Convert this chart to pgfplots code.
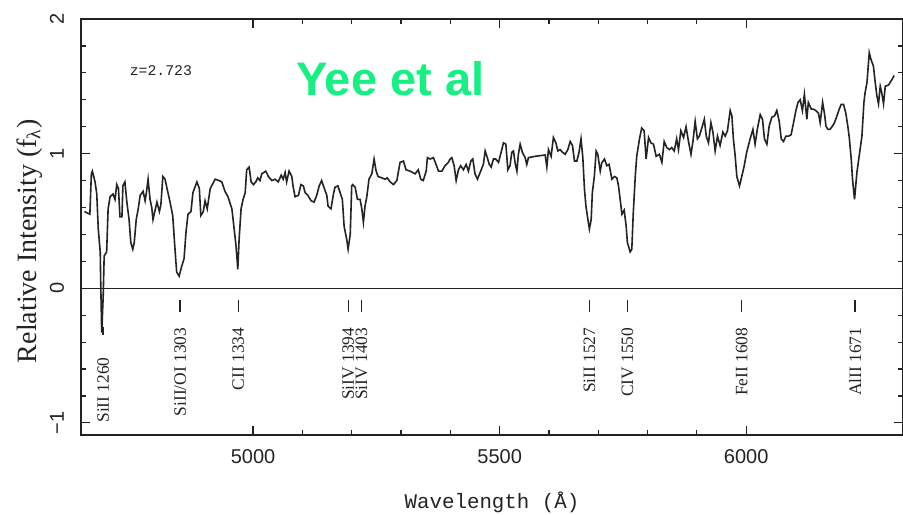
\documentclass[border=0pt]{standalone}
\usepackage{fontspec}
\setmainfont{Liberation Sans}
\newfontfamily\timesf{Liberation Serif}
\newfontfamily\courf{Liberation Mono}
\usepackage{pgfplots}
\pgfplotsset{compat=1.18}
\definecolor{ink}{RGB}{35,35,35}
\definecolor{yeegreen}{RGB}{20,240,130}

\begin{document}
\begin{tikzpicture}
\begin{axis}[
  scale only axis, width=411pt, height=208pt,
  xmin=4651, xmax=6318, ymin=-1.09, ymax=2,
  xtick={5000,5500,6000}, xticklabels={5000,5500,6000},
  ytick={-1,0,1,2}, yticklabels={−1,0,1,2},
  minor x tick num=4, minor y tick num=4,
  tick align=inside, xtick pos=both, ytick pos=both,
  major tick length=4.5pt, minor tick length=2.5pt,
  axis line style={ink, line width=0.7pt},
  tick style={ink, line width=0.6pt},
  tick label style={font=\fontsize{10}{12}\selectfont, text=ink},
  xticklabel style={anchor=center}, xticklabel shift=11pt,
  yticklabel style={rotate=90, anchor=center}, yticklabel shift=12pt,
  xlabel={Wavelength (Å)},
  xlabel style={font=\courf\fontsize{10.4}{12}\selectfont, text=ink,
                at={(axis description cs:0.5,0)}, anchor=base, yshift=-36.5pt},
  ylabel={Relative Intensity (f\textsubscript{λ})},
  ylabel style={font=\timesf\fontsize{14}{16}\selectfont, text=ink,
                at={(axis description cs:-0.0547,0.466)}, anchor=base},
]
% zero level
\addplot[ink, line width=0.5pt] coordinates {(4651,0) (6318,0)};

% spectrum, z = 2.723
\addplot[ink, line width=0.8pt] coordinates {
(4658,0.57) (4669,0.55) (4672,0.85) (4674,0.87) (4679.5,0.79) (4683,0.70) (4686,0.44)
(4690,0.27) (4691,0.04) (4693,-0.33) (4696,-0.06) (4698,0.24) (4703,0.27) (4706,0.59)
(4710,0.68) (4716,0.70) (4720,0.66) (4723.5,0.77) (4727,0.74) (4730,0.53) (4734,0.53)
(4736,0.76) (4740,0.79) (4744,0.64) (4748.5,0.51) (4752,0.34) (4756,0.29) (4759,0.34)
(4763,0.51) (4767,0.59) (4771,0.69) (4777,0.72) (4781,0.65) (4784,0.72) (4787,0.81)
(4791,0.66) (4794.5,0.60) (4797,0.51) (4805,0.64) (4810,0.57) (4813,0.62) (4817,0.83)
(4821.5,0.81) (4825.5,0.74) (4831.6,0.64) (4837,0.54) (4842,0.27) (4845,0.12) (4850,0.09)
(4855,0.16) (4860,0.22) (4864,0.42) (4868,0.55) (4874,0.57) (4878,0.71) (4886,0.79)
(4891,0.74) (4894,0.54) (4899,0.57) (4902.6,0.65) (4907,0.59) (4913,0.74) (4923,0.81)
(4931,0.80) (4936.5,0.79) (4943,0.72) (4949,0.68) (4957,0.59) (4961,0.46) (4965.5,0.31)
(4969,0.14) (4971.6,0.36) (4975.6,0.59) (4979.7,0.66) (4984,0.71) (4987,0.88) (4992,0.90)
(4996,0.79) (5000.6,0.77) (5005.5,0.79) (5009.5,0.82) (5014,0.80) (5017.6,0.85) (5025.7,0.87)
(5031,0.83) (5038,0.80) (5044.6,0.81) (5051,0.79) (5057,0.84) (5061,0.81) (5065,0.86)
(5068,0.79) (5073,0.87) (5078.5,0.83) (5081,0.76) (5085,0.68) (5092,0.69) (5097,0.77)
(5102,0.76) (5105.5,0.71) (5111,0.69) (5117.6,0.65) (5123.7,0.64) (5129,0.69) (5134,0.76)
(5139,0.80) (5144.6,0.74) (5149.5,0.69) (5152,0.61) (5158,0.59) (5163,0.70) (5166,0.75)
(5172,0.76) (5176.5,0.71) (5181,0.66) (5184.6,0.46) (5190,0.36) (5192.7,0.29) (5197,0.40)
(5200,0.76) (5202,0.77) (5207,0.75) (5211.6,0.66) (5217,0.66) (5220.5,0.59) (5223.7,0.49)
(5227,0.61) (5230.6,0.68) (5235,0.81) (5240.8,0.85) (5245.4,0.96) (5249.5,0.87) (5253.5,0.83)
(5261,0.82) (5267.7,0.81) (5272,0.82) (5278,0.79) (5284.6,0.77) (5291.5,0.80) (5298,0.935)
(5305,0.945) (5310,0.88) (5318.4,0.87) (5328.6,0.85) (5335,0.88) (5340,0.81) (5345,0.80)
(5351,0.87) (5353.5,0.97) (5359,0.96) (5365.7,0.97) (5371,0.92) (5376,0.87) (5383,0.87)
(5389,0.91) (5396,0.935) (5399.6,0.96) (5403,0.97) (5407.7,0.91) (5411.8,0.80) (5416.4,0.88)
(5421,0.91) (5426.6,0.88) (5432,0.92) (5436.7,0.87) (5441.6,0.945) (5445.6,0.96) (5450,0.85)
(5455,0.81) (5460.4,0.86) (5467,0.92) (5470.6,1.02) (5475,0.97) (5479,0.92) (5482.8,0.90)
(5487.4,0.96) (5492,0.96) (5497.6,0.935) (5503,1.01) (5507.7,1.08) (5512.6,1.07) (5516.6,0.88)
(5521,0.91) (5524.7,1.01) (5528,1.02) (5531.4,0.93) (5535,0.87) (5538,0.995) (5541.6,1.07)
(5546,1.01) (5551.7,0.97) (5555,0.92) (5558.4,0.97) (5572,0.98) (5592.3,0.99) (5595.7,0.90)
(5599,1.03) (5604.4,0.98) (5609,1.12) (5614,1.08) (5618,1.02) (5622.7,1.03) (5627.4,1.01)
(5632.8,0.995) (5638.3,1.03) (5643,1.09) (5647.7,1.06) (5651.7,0.945) (5656.6,0.945) (5661,1.01)
(5665,1.11) (5668.7,0.97) (5672,0.735) (5675,0.61) (5679,0.51) (5682,0.44) (5685.6,0.51)
(5688,0.71) (5692,0.83) (5695.7,1.02) (5699,0.995) (5704,0.87) (5707,0.93) (5712.6,0.96)
(5717.4,0.91) (5722,0.92) (5727.6,0.81) (5733,0.83) (5737.7,0.82) (5741,0.76) (5744.4,0.66)
(5748,0.55) (5752.5,0.58) (5756.6,0.46) (5759,0.34) (5764.7,0.27) (5768,0.29) (5771,0.56)
(5775,0.83) (5778,0.98) (5783.6,1.11) (5788,1.19) (5793,1.17) (5797,0.96) (5802,1.12)
(5806.7,1.08) (5812,1.07) (5817.4,0.98) (5824,0.995) (5829,0.935) (5833.7,1.09) (5839,1.045)
(5844.4,1.03) (5849,1.045) (5854,1.02) (5859,1.11) (5862.7,1.03) (5867.5,1.17) (5873,1.12)
(5878,1.20) (5883,1.09) (5888,0.995) (5892,1.09) (5896.5,1.24) (5901,1.11) (5905,1.13)
(5910,1.19) (5915,1.255) (5919,1.13) (5923.5,1.08) (5928.4,1.23) (5932.5,1.16) (5937,1.02)
(5941.8,1.13) (5947,1.06) (5952.7,1.16) (5957.4,1.13) (5962,1.17) (5967.5,1.32) (5971,1.28)
(5974,1.11) (5977.7,0.98) (5981,0.83) (5986.4,0.76) (5991,0.83) (5996,0.91) (6001,1.01)
(6008,1.11) (6013.6,1.18) (6018,1.07) (6023,1.19) (6028.4,1.29) (6033,1.255) (6037,1.11)
(6042,1.07) (6046.6,1.205) (6052,1.27) (6057.4,1.28) (6062,1.32) (6067,1.24) (6071,1.11)
(6075.7,1.09) (6080.5,1.13) (6086,1.13) (6091,1.14) (6096,1.23) (6100.8,1.32) (6105,1.38)
(6109.5,1.40) (6114,1.32) (6118,1.44) (6123,1.255) (6126,1.38) (6132,1.33) (6136.5,1.33)
(6141,1.32) (6146.6,1.30) (6150,1.23) (6155,1.38) (6159,1.29) (6161.7,1.205) (6165.7,1.18)
(6170,1.18) (6175,1.205) (6179,1.23) (6184,1.28) (6188.6,1.33) (6192.7,1.366) (6197.4,1.366)
(6202,1.30) (6206,1.205) (6209,1.12) (6213,0.96) (6215.6,0.81) (6219.7,0.66) (6224.5,0.86)
(6229,0.98) (6234.7,1.13) (6238.7,1.38) (6241,1.45) (6245,1.53) (6249.5,1.75) (6253,1.70)
(6258,1.65) (6261.6,1.53) (6265,1.43) (6268.3,1.37) (6271.8,1.50) (6275,1.45) (6278.5,1.37)
(6282,1.50) (6288.6,1.51) (6295.6,1.55) (6300,1.58)
};

% line identification ticks
\addplot[ink, line width=0.7pt, unbounded coords=jump] coordinates {
(4696,-0.29) (4696,-0.35) (4696,nan)
(4852,-0.085) (4852,-0.18) (4852,nan)
(4970,-0.085) (4970,-0.18) (4970,nan)
(5193,-0.085) (5193,-0.18) (5193,nan)
(5220,-0.085) (5220,-0.18) (5220,nan)
(5682,-0.085) (5682,-0.18) (5682,nan)
(5759,-0.085) (5759,-0.18) (5759,nan)
(5991,-0.085) (5991,-0.18) (5991,nan)
(6221,-0.085) (6221,-0.18)
};

\tikzset{lid/.style={rotate=90, anchor=east, inner sep=0pt, text=ink,
                     font=\timesf\fontsize{8.7}{10}\selectfont}}
\node[lid] at (axis cs:4696,-0.51) {SiII 1260};
\node[lid] at (axis cs:4852,-0.29) {SiII/OI 1303};
\node[lid] at (axis cs:4970,-0.29) {CII 1334};
\node[lid] at (axis cs:5193,-0.29) {SiIV 1394};
\node[lid] at (axis cs:5220,-0.29) {SiIV 1403};
\node[lid] at (axis cs:5682,-0.29) {SiII 1527};
\node[lid] at (axis cs:5759,-0.29) {CIV 1550};
\node[lid] at (axis cs:5991,-0.29) {FeII 1608};
\node[lid] at (axis cs:6221,-0.29) {AlII 1671};

\node[font=\courf\fontsize{7.4}{9}\selectfont, text=ink] at (axis cs:4813,1.62) {z=2.723};
\node[font=\bfseries\fontsize{23.5}{26}\selectfont, text=yeegreen] at (axis cs:5278,1.56) {Yee et al};

\coordinate (sw) at (rel axis cs:0,0);
\coordinate (ne) at (rel axis cs:1,1);
\end{axis}
\pgfresetboundingbox
\path ([shift={(-40.5pt,-39.5pt)}]sw) rectangle ([shift={(0pt,9.5pt)}]ne);
\end{tikzpicture}
\end{document}
